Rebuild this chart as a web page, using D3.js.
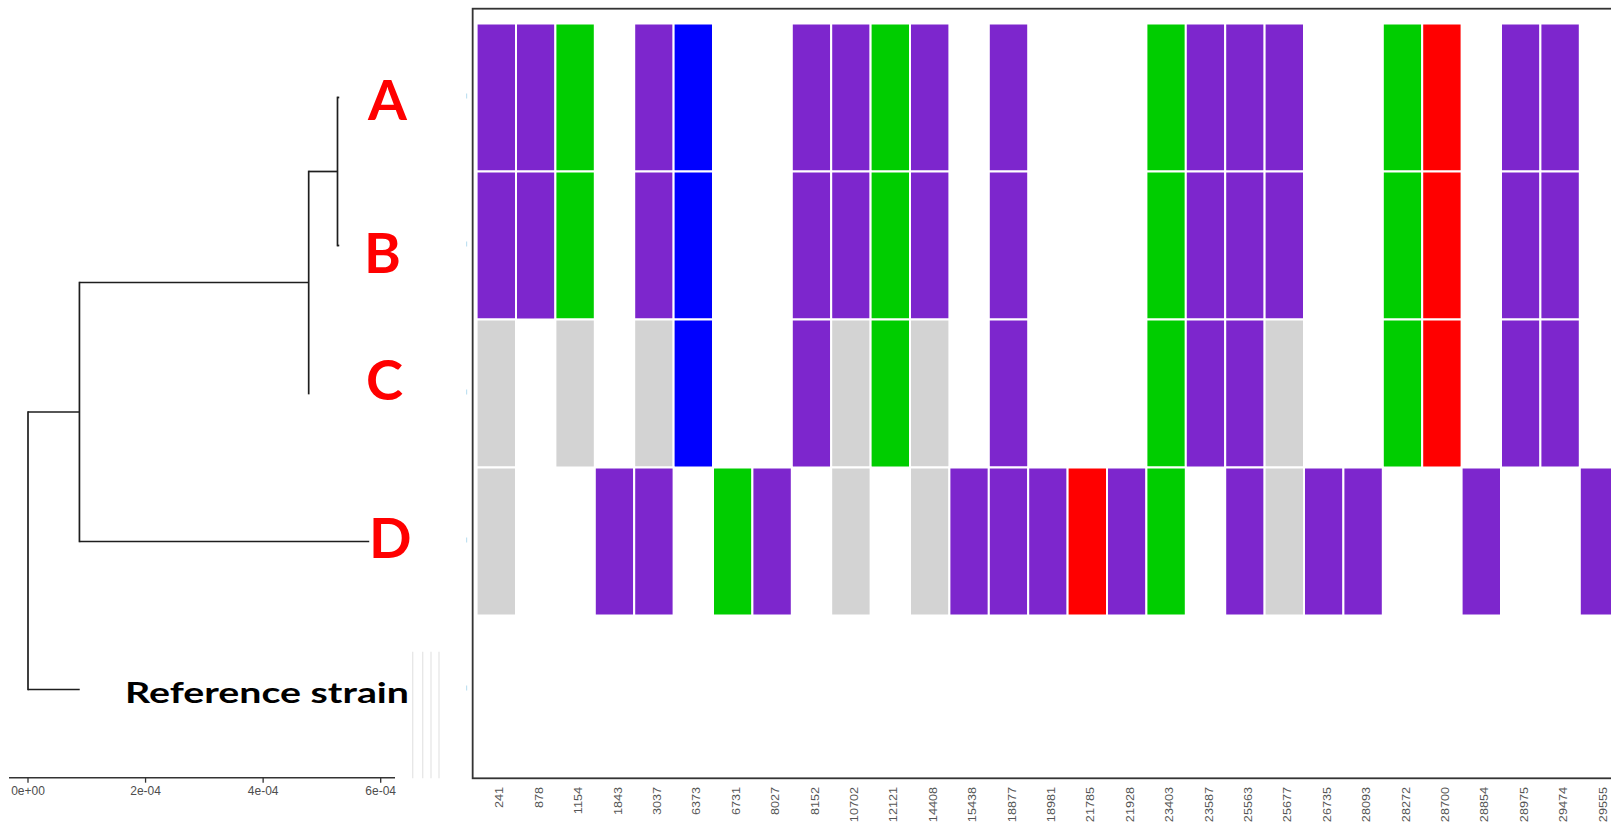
<!DOCTYPE html>
<html>
<head>
<meta charset="utf-8">
<script src="https://cdn.jsdelivr.net/npm/d3@7/dist/d3.min.js"></script>
<style>
  html, body { margin: 0; padding: 0; background: #fff; overflow: hidden; }
  svg { display: block; }
</style>
</head>
<body>
<svg id="chart" width="1611" height="825"></svg>
<script>
// ---------------- DATA ----------------
const positions = ["241","878","1154","1843","3037","6373","6731","8027","8152","10702",
  "12121","14408","15438","18877","18981","21785","21928","23403","23587","25563",
  "25677","26735","28093","28272","28700","28854","28975","29474","29555"];
const strains = ["A","B","C","D","Reference strain"];
// allele codes per strain ("" = same as reference)
const rowA = ["T","T","A","","T","C","","","T","T","A","T","","T","","","","A","T","T","T","","","A","G","","T","T",""];
const rowB = ["T","T","A","","T","C","","","T","T","A","T","","T","","","","A","T","T","T","","","A","G","","T","T",""];
const rowC = ["N","","N","","N","C","","","T","N","A","N","","T","","","","A","T","T","N","","","A","G","","T","T",""];
const rowD = ["N","","","T","T","","A","T","","N","","N","T","T","T","G","T","A","","T","N","T","T","","","T","","","T"];
const rowRef = ["","","","","","","","","","","","","","","","","","","","","","","","","","","","",""];
const alleleCodes = ["T","A","G","C","N"];
// tree: node names, parent, branch length (substitutions/site)
const treeNodes   = ["root","n1","nABC","nAB","A","B","C","D","Reference strain"];
const treeParents = ["",   "root","n1","nABC","nAB","nAB","nABC","n1","root"];
const branchLen   = [0, 8.75e-5, 3.9e-4, 4.9e-5, 3e-6, 3e-6, 0, 4.93e-4, 8.8e-5];
const treeTicks = [0, 2e-4, 4e-4, 6e-4];
const treeTickLabels = ["0e+00","2e-04","4e-04","6e-04"];

// ---------------- SETUP ----------------
const svg = d3.select("#chart");
const rows = [rowA,rowB,rowC,rowD,rowRef];

const colStep = 39.4, rowStep = 148;
const x0 = 476.6, y0 = 23.5;
const x = d3.scaleBand().domain(positions).range([x0, x0 + positions.length*colStep]).padding(0);
const y = d3.scaleBand().domain(strains).range([y0, y0 + strains.length*rowStep]).padding(0);
const color = d3.scaleOrdinal().domain(alleleCodes)
  .range(["#7D26CD","#00CD00","#FF0000","#0000FF","#D3D3D3"]);

const panel = {
  left: x.range()[0] - 0.1*colStep, right: x.range()[1] + 0.1*colStep,
  top: y.range()[0] - 0.1*rowStep, bottom: y.range()[1] + 0.1*rowStep
};

// ---------------- HEATMAP ----------------
const cells = [];
strains.forEach((s,ri) => positions.forEach((p,ci) => {
  const v = rows[ri][ci];
  if (v) cells.push({s, p, v});
}));
svg.append("g").selectAll("rect").data(cells).join("rect")
  .attr("x", d => x(d.p)).attr("y", d => y(d.s))
  .attr("width", x.bandwidth()).attr("height", y.bandwidth())
  .attr("fill", d => color(d.v))
  .attr("stroke", "#fff").attr("stroke-width", 2);

// panel frame
svg.append("rect")
  .attr("x", panel.left).attr("y", panel.top)
  .attr("width", panel.right - panel.left).attr("height", panel.bottom - panel.top)
  .attr("fill", "none").attr("stroke", "#333").attr("stroke-width", 1.8);

// tiny faint y ticks
svg.append("g").selectAll("line").data(strains).join("line")
  .attr("x1", panel.left - 6).attr("x2", panel.left - 6)
  .attr("y1", d => y(d) + y.bandwidth()/2 - 4).attr("y2", d => y(d) + y.bandwidth()/2 + 1)
  .attr("stroke", "#b5dcef").attr("stroke-width", 1);

// x labels
const xl = svg.append("g");
positions.forEach(p => {
  const cx = x(p) + x.bandwidth()/2 + 4;
  xl.append("text")
    .attr("transform", `translate(${cx},787) rotate(-90) scale(1.1,1)`)
    .attr("text-anchor", "end")
    .attr("dominant-baseline", "middle")
    .attr("font-family", "Liberation Sans, Arial, sans-serif")
    .attr("font-size", 11.5)
    .attr("fill", "#555")
    .text(p);
});

// ---------------- TREE ----------------
const tx = d3.scaleLinear().domain([0, 6e-4]).range([28, 380.7]);
const tbl = treeNodes.map((n,i) => ({id:n, parentId: treeParents[i] || null, len: branchLen[i]}));
const root = d3.stratify().id(d => d.id).parentId(d => d.parentId)(tbl);
root.eachBefore(n => { n.dist = (n.parent ? n.parent.dist : 0) + n.data.len; });
root.eachAfter(n => {
  if (!n.children) n.py = y(n.id) + y.bandwidth()/2;
  else {
    const ys = n.children.map(c => c.py);
    n.py = (d3.min(ys) + d3.max(ys)) / 2;
  }
});
const tg = svg.append("g").attr("stroke", "#1e1e1e").attr("stroke-width", 1.7).attr("fill","none");
root.descendants().forEach(n => {
  if (n.parent) {
    tg.append("line").attr("x1", tx(n.parent.dist)).attr("x2", tx(n.dist))
      .attr("y1", n.py).attr("y2", n.py);
  }
  if (n.children) {
    const ys = n.children.map(c => c.py);
    tg.append("line").attr("x1", tx(n.dist)).attr("x2", tx(n.dist))
      .attr("y1", d3.min(ys) - 0.85).attr("y2", d3.max(ys) + 0.85);
  }
});

// tree axis
const axisY = 777.7;
svg.append("line").attr("x1", 9).attr("x2", 395).attr("y1", axisY).attr("y2", axisY)
  .attr("stroke", "#333").attr("stroke-width", 1.5);
const ta = svg.append("g");
treeTicks.forEach((t,i) => {
  ta.append("line").attr("x1", tx(t)).attr("x2", tx(t)).attr("y1", axisY).attr("y2", axisY + 5)
    .attr("stroke", "#333").attr("stroke-width", 1.3);
  ta.append("text").attr("x", tx(t)).attr("y", 794.5).attr("text-anchor","middle")
    .attr("font-family", "Liberation Sans, Arial, sans-serif").attr("font-size", 12)
    .attr("fill", "#4d4d4d").text(treeTickLabels[i]);
});

// faint vertical lines
svg.append("g").selectAll("line").data([412.7, 422.7, 431, 439]).join("line")
  .attr("x1", d => d).attr("x2", d => d).attr("y1", 651.7).attr("y2", 778.3)
  .attr("stroke", "#e6e6e6").attr("stroke-width", 1.3);

// tip labels
const labelFont = "Lato, 'Open Sans', sans-serif";
const tipLabelPlace = { A:[368,120], B:[364,273], C:[366,400], D:[369,558] };
["A","B","C","D"].forEach(s => {
  svg.append("text").attr("x", tipLabelPlace[s][0]).attr("y", tipLabelPlace[s][1])
    .attr("font-family", labelFont).attr("font-weight", "bold").attr("font-size", 56)
    .attr("fill", "#FF0000").text(s);
});
svg.append("text").attr("x", 125).attr("y", 702.7)
  .attr("font-family", labelFont).attr("font-weight", "bold").attr("font-size", 28)
  .attr("fill", "#000").attr("textLength", 284).attr("lengthAdjust", "spacingAndGlyphs")
  .text("Reference strain");
</script>
</body>
</html>
